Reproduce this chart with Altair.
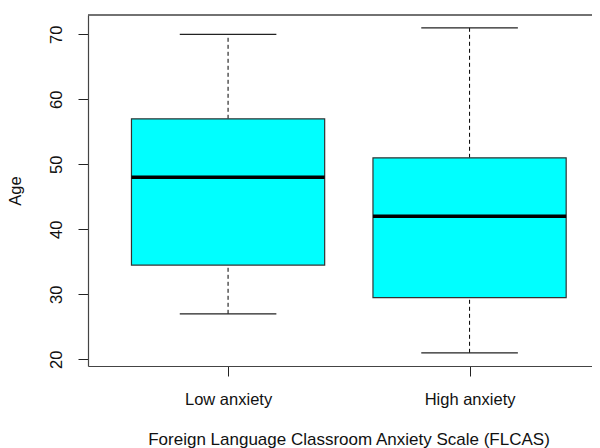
import altair as alt
import pandas as pd

# Data
groups = ["Low anxiety", "High anxiety"]
positions = [1, 2]
mins = [27, 21]
q1s = [34.5, 29.5]
medians = [48, 42]
q3s = [57, 51]
maxs = [70, 71]

y_ticks = [20, 30, 40, 50, 60, 70]

df = pd.DataFrame({
    "group": groups,
    "pos": positions,
    "ymin": mins,
    "q1": q1s,
    "median": medians,
    "q3": q3s,
    "ymax": maxs,
})

W = 504
H = 351
FONT = "Liberation Sans"
FS = 16.5

xs = alt.Scale(domain=[0.42, 0.42 + W / 241.5], nice=False, zero=False)
ys = alt.Scale(domain=[18.97, 72.97], nice=False, zero=False)

label_expr = "[" + ",".join("'" + g + "'" for g in groups) + "][datum.value - 1]"

base = alt.Chart(df).transform_calculate(
    lo="datum.pos - 0.4",
    hi="datum.pos + 0.4",
    slo="datum.pos - 0.2",
    shi="datum.pos + 0.2",
)

x_axis = alt.Axis(
    orient="bottom",
    values=positions,
    labelExpr=label_expr,
    title="Foreign Language Classroom Anxiety Scale (FLCAS)",
    tickSize=10,
    labelPadding=28,
    labelBaseline="alphabetic",
    labelFlush=False,
    labelOverlap=False,
    grid=False,
    titleX=260.5,
    titleY=78,
    titleAlign="center",
    titleBaseline="alphabetic",
    titleFontSize=17,
)

y_axis = alt.Axis(
    orient="left",
    values=y_ticks,
    title="Age",
    tickSize=10,
    labelAngle=-90,
    labelAlign="center",
    labelBaseline="alphabetic",
    labelPadding=17,
    labelFlush=False,
    labelOverlap=False,
    grid=False,
    titleAngle=-90,
    titleX=-68,
    titleY=175.5,
    titleAlign="center",
    titleBaseline="alphabetic",
)


def X(field):
    return alt.X(field, scale=xs, axis=x_axis, title="Foreign Language Classroom Anxiety Scale (FLCAS)")


def Y(field):
    return alt.Y(field, scale=ys, axis=y_axis, title="Age")


whisk_up = base.mark_rule(color="black", strokeWidth=1, strokeDash=[4, 3]).encode(
    x=X("pos:Q"), y=Y("q3:Q"), y2="ymax:Q",
)
whisk_dn = base.mark_rule(color="black", strokeWidth=1, strokeDash=[4, 3]).encode(
    x=X("pos:Q"), y=Y("ymin:Q"), y2="q1:Q",
)
staple_up = base.mark_rule(color="#222222", strokeWidth=1.2).encode(
    x=X("slo:Q"), x2="shi:Q", y=Y("ymax:Q"),
)
staple_dn = base.mark_rule(color="#222222", strokeWidth=1.2).encode(
    x=X("slo:Q"), x2="shi:Q", y=Y("ymin:Q"),
)
boxes = base.mark_rect(fill="#00FFFF", stroke="#333333", strokeWidth=1.2).encode(
    x=X("lo:Q"), x2="hi:Q", y=Y("q1:Q"), y2="q3:Q",
)
med = base.mark_rule(color="black", strokeWidth=3.5).encode(
    x=X("lo:Q"), x2="hi:Q", y=Y("median:Q"),
)
top_frame = alt.Chart(df).mark_rule(color="#444444", strokeWidth=1.2).encode(
    x=alt.value(0), x2=alt.value(W), y=alt.value(0)
)

chart = alt.layer(
    whisk_up, whisk_dn, staple_up, staple_dn, boxes, med, top_frame
).resolve_axis(
    x="shared", y="shared"
).properties(
    width=W,
    height=H,
    autosize=alt.AutoSizeParams(type="none"),
    padding={"left": 80, "top": 7, "right": 0, "bottom": 82},
    background="white",
).configure_view(
    strokeWidth=0,
    stroke="white",
).configure_axis(
    domainColor="#444444",
    domainWidth=1.2,
    tickColor="#222222",
    tickWidth=1,
    labelColor="#111111",
    titleColor="#111111",
    labelFont=FONT,
    titleFont=FONT,
    labelFontSize=FS,
    titleFontSize=FS,
    titleFontWeight="normal",
)

chart.save("out.html", embed_options={"renderer": "svg", "actions": False})
